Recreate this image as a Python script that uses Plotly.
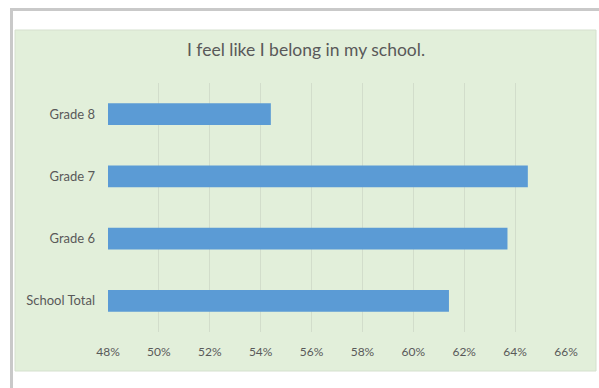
import plotly.graph_objects as go

categories = ["School Total", "Grade 6", "Grade 7", "Grade 8"]
values = [0.614, 0.637, 0.645, 0.544]
tick_vals = [0.48, 0.50, 0.52, 0.54, 0.56, 0.58, 0.60, 0.62, 0.64, 0.66]
title_text = "I feel like I belong in my school."

W, H = 599, 388
L, R, T, B = 108, 33, 83, 56
pw, ph = W - L - R, H - T - B

def px(x):
    return (x - L) / pw

def py(y):
    return (H - B - y) / ph

fig = go.Figure()
fig.add_trace(go.Bar(
    y=categories, x=values, orientation="h",
    marker=dict(color="#5B9BD5", line=dict(width=0)),
    width=0.35, base=0,
))

shapes = [
    # green chart area
    dict(type="rect", xref="paper", yref="paper", layer="below",
         x0=px(15), x1=px(596), y0=py(371), y1=py(30),
         fillcolor="#E2EFDA", line=dict(color="#D5E0CE", width=1)),
    # outer gray frame (left and top)
    dict(type="rect", xref="paper", yref="paper", layer="below",
         x0=px(10), x1=px(13), y0=py(388), y1=py(8),
         fillcolor="#C9C9C9", line=dict(width=0)),
    dict(type="rect", xref="paper", yref="paper", layer="below",
         x0=px(10), x1=px(599), y0=py(11), y1=py(8),
         fillcolor="#C9C9C9", line=dict(width=0)),
]

font_family = "Lato, Open Sans, sans-serif"

fig.update_layout(
    width=W, height=H,
    margin=dict(l=L, r=R, t=T, b=B),
    paper_bgcolor="white",
    plot_bgcolor="rgba(0,0,0,0)",
    shapes=shapes,
    showlegend=False,
    title=dict(text=title_text, x=306 / W, xref="container", xanchor="center",
               y=1 - 50 / H, yanchor="middle",
               font=dict(family=font_family, size=17.5, color="#595959")),
    xaxis=dict(range=[0.48, 0.66], tickvals=tick_vals, tickformat=".0%",
               showgrid=True, gridcolor="#D2DDCB", gridwidth=1,
               zeroline=False, showline=False, ticks="",
               tickfont=dict(family=font_family, size=12, color="#595959"),
               ticklabelstandoff=11),
    yaxis=dict(categoryorder="array", categoryarray=categories,
               showgrid=False, zeroline=False, showline=False, ticks="",
               tickfont=dict(family=font_family, size=13, color="#595959"),
               ticklabelstandoff=12),
    bargap=0.65,
)

fig.write_html("out.html", config={"displayModeBar": False},
               post_script="document.body.style.margin='0';")
